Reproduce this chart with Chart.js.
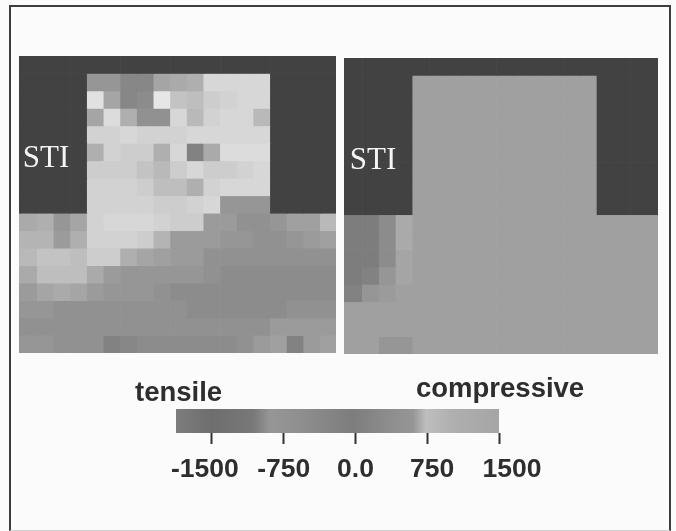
<!DOCTYPE html>
<html>
<head>
<meta charset="utf-8">
<script src="https://cdn.jsdelivr.net/npm/chart.js@4/dist/chart.umd.min.js"></script>
<style>
html,body{margin:0;padding:0;background:#fbfbfb;width:676px;height:531px;overflow:hidden}
#frame{position:absolute;left:9px;top:5px;width:658px;height:523px;border:2px solid #3d3d3d;border-bottom:1px solid #d0d0d0}
.box{position:absolute;overflow:hidden}
canvas{display:block}
.crop{margin-left:-15px}
</style>
</head>
<body>
<div id="frame"></div>
<div class="box" style="left:19px;top:56px;width:317px;height:297px"><canvas id="left" class="crop"></canvas></div>
<div class="box" style="left:344px;top:58px;width:314px;height:296px"><canvas id="right" class="crop"></canvas></div>
<div class="box" style="left:120px;top:370px;width:480px;height:120px"><canvas id="bar"></canvas></div>
<script>
// Stress per cell (MPa); null = STI oxide region
const n = null;
const columns = ["edge","c0","c1","c2","c3","c4","c5","c6","c7","c8","c9","c10","c11","c12","c13","c14","c15","c16","c17","c18"];
const stressLeft = [
[n,n,n,n,n,n,n,n,n,n,n,n,n,n,n,n,n,n,n],
[n,n,n,n,-300,-300,-600,-600,0,100,200,1000,1000,1000,1000,n,n,n,n],
[n,n,n,n,1200,0,-600,-500,1300,600,500,800,900,1000,1000,n,n,n,n],
[n,n,n,n,0,1100,200,-400,-400,1000,400,900,1000,1000,400,n,n,n,n],
[n,n,n,n,900,900,1000,900,900,900,1000,1000,1000,1000,1000,n,n,n,n],
[n,n,n,n,200,900,800,800,200,1000,-700,100,1100,1100,1100,n,n,n,n],
[n,n,n,n,800,800,800,600,400,800,1000,800,800,900,1000,n,n,n,n],
[n,n,n,n,900,900,900,800,500,500,200,900,1000,1000,1000,n,n,n,n],
[n,n,n,n,900,900,900,900,800,800,900,1000,-300,-300,-300,n,n,n,n],
[100,200,-300,0,900,1000,1000,1000,900,800,800,-200,-200,-400,-400,-300,-100,-100,400],
[300,300,-200,200,900,900,900,800,300,-200,-200,-200,-300,-300,-400,-400,-300,-200,-100],
[400,600,600,500,800,800,200,0,-100,-200,-200,-400,-400,-400,-400,-400,-400,-400,-400],
[100,500,500,500,100,-200,-300,-300,-300,-300,-300,-400,-500,-500,-500,-500,-500,-500,-500],
[-200,0,100,0,-200,-300,-300,-300,-400,-500,-500,-500,-500,-500,-500,-500,-500,-500,-500],
[-300,-300,-400,-400,-400,-400,-400,-400,-400,-400,-500,-500,-500,-500,-500,-500,-400,-400,-400],
[-400,-400,-400,-400,-400,-400,-400,-400,-400,-400,-400,-400,-400,-400,-400,-200,-200,-200,-200],
[-300,-300,-400,-400,-400,-700,-600,-500,-500,-500,-500,-500,-500,-400,-200,-100,-700,-200,-100]
];
const stressRight = [
[n,n,n,n,n,n,n,n,n,n,n,n,n,n,n,n,n,n,n],
[n,n,n,n,-100,-100,-100,-100,-100,-100,-100,-100,-100,-100,-100,n,n,n,n],
[n,n,n,n,-100,-100,-100,-100,-100,-100,-100,-100,-100,-100,-100,n,n,n,n],
[n,n,n,n,-100,-100,-100,-100,-100,-100,-100,-100,-100,-100,-100,n,n,n,n],
[n,n,n,n,-100,-100,-100,-100,-100,-100,-100,-100,-100,-100,-100,n,n,n,n],
[n,n,n,n,-100,-100,-100,-100,-100,-100,-100,-100,-100,-100,-100,n,n,n,n],
[n,n,n,n,-100,-100,-100,-100,-100,-100,-100,-100,-100,-100,-100,n,n,n,n],
[n,n,n,n,-100,-100,-100,-100,-100,-100,-100,-100,-100,-100,-100,n,n,n,n],
[n,n,n,n,-100,-100,-100,-100,-100,-100,-100,-100,-100,-100,-100,n,n,n,n],
[-800,-800,-500,100,-100,-100,-100,-100,-100,-100,-100,-100,-100,-100,-100,-100,-100,-100,-100],
[-800,-800,-500,100,-100,-100,-100,-100,-100,-100,-100,-100,-100,-100,-100,-100,-100,-100,-100],
[-800,-800,-500,0,-100,-100,-100,-100,-100,-100,-100,-100,-100,-100,-100,-100,-100,-100,-100],
[-800,-700,-300,0,-100,-100,-100,-100,-100,-100,-100,-100,-100,-100,-100,-100,-100,-100,-100],
[-700,-300,-200,-100,-100,-100,-100,-100,-100,-100,-100,-100,-100,-100,-100,-100,-100,-100,-100],
[-100,-100,-100,-100,-100,-100,-100,-100,-100,-100,-100,-100,-100,-100,-100,-100,-100,-100,-100],
[-100,-100,-100,-100,-100,-100,-100,-100,-100,-100,-100,-100,-100,-100,-100,-100,-100,-100,-100],
[-100,-100,-300,-300,-100,-100,-100,-100,-100,-100,-100,-100,-100,-100,-100,-100,-100,-100,-100]
];
const colorbarValues = [-1875,-1500,-1070,-895,-655,-30,320,600,740,1015,1500];
const colorbarGrays  = [125,110,120,150,145,125,140,150,190,175,165];
const tickValues = [-1500,-750,0,750,1500];
const tickLabels = ["-1500","-750","0.0","750","1500"];
const tickLabelShift = [-7,0,0,5,13];
const stiLabel = "STI";
const tensileLabel = "tensile";
const compressiveLabel = "compressive";

const STI_GRAY = 66;
const gray = g => `rgb(${g},${g},${g})`;
const stressColor = v => v === null ? gray(STI_GRAY) : gray(Math.round(165 + v / 20));

Chart.defaults.animation = false;
Chart.defaults.responsive = false;

function heatmap(id, w, h, table, labelAt) {
  const cv = document.getElementById(id);
  cv.width = w; cv.height = h;
  const datasets = table.map((row, r) => {
    const cells = [row[0], ...row]; // leading column: the mesh continues past the cropped edge
    return {
      data: cells.map(() => [r, r + 1]),
      backgroundColor: cells.map(stressColor),
      borderWidth: 0,
      barPercentage: 1,
      categoryPercentage: 1,
      grouped: false
    };
  });
  return new Chart(cv, {
    type: "bar",
    data: { labels: columns, datasets },
    options: {
      maintainAspectRatio: false,
      layout: { padding: 0 },
      scales: {
        x: { display: false, grid: { display: false } },
        y: { display: false, reverse: true, min: 0, max: table.length }
      },
      plugins: { legend: { display: false }, tooltip: { enabled: false } }
    },
    plugins: [{
      id: "stiText",
      afterDatasetsDraw(c) {
        const ctx = c.ctx, xs = c.scales.x, ys = c.scales.y;
        ctx.save();
        ctx.fillStyle = "#f4f4f4";
        ctx.font = "31px 'Liberation Serif'";
        ctx.textAlign = "center";
        ctx.textBaseline = "alphabetic";
        ctx.fillText(stiLabel, xs.getPixelForValue(labelAt[0]), ys.getPixelForValue(labelAt[1]));
        ctx.restore();
      }
    }]
  });
}
heatmap("left", 333, 297, stressLeft, [2.02, 6.35]);
heatmap("right", 335, 296, stressRight, [2.13, 6.37]);

const barCanvas = document.getElementById("bar");
barCanvas.width = 480; barCanvas.height = 120;
new Chart(barCanvas, {
  type: "bar",
  data: {
    labels: ["scale"],
    datasets: [{
      data: [[colorbarValues[0], colorbarValues[colorbarValues.length - 1]]],
      barPercentage: 1, categoryPercentage: 1, borderWidth: 0,
      backgroundColor(c) {
        const a = c.chart.chartArea;
        if (!a) return gray(150);
        const g = c.chart.ctx.createLinearGradient(a.left, 0, a.right, 0);
        const lo = colorbarValues[0], hi = colorbarValues[colorbarValues.length - 1];
        colorbarValues.forEach((v, i) => g.addColorStop((v - lo) / (hi - lo), gray(colorbarGrays[i])));
        return g;
      }
    }]
  },
  options: {
    indexAxis: "y",
    maintainAspectRatio: false,
    layout: { padding: { left: 56, right: 101, top: 39, bottom: 33 } },
    scales: {
      y: { display: false },
      x: {
        min: -1875, max: 1500,
        border: { display: false },
        grid: { drawOnChartArea: false, drawTicks: true, tickLength: 11, tickWidth: 2, tickColor: "#333" },
        afterBuildTicks(s) { s.ticks = tickValues.map(value => ({ value })); },
        ticks: {
          autoSkip: false, maxRotation: 0, minRotation: 0, padding: 40,
          color: "rgba(0,0,0,0)", font: { size: 26, weight: "bold", family: "'Liberation Sans'" },
          callback() { return ""; }
        }
      }
    },
    plugins: { legend: { display: false }, tooltip: { enabled: false } }
  },
  plugins: [{
    id: "legendText",
    afterDraw(c) {
      const ctx = c.ctx, xs = c.scales.x;
      ctx.save();
      ctx.fillStyle = "#2e2e2e";
      ctx.textBaseline = "alphabetic";
      ctx.font = "bold 26.5px 'Liberation Sans'";
      ctx.textAlign = "center";
      tickValues.forEach((v, i) => ctx.fillText(tickLabels[i], xs.getPixelForValue(v) + tickLabelShift[i], 107));
      ctx.textAlign = "left";
      ctx.font = "bold 27.5px 'Liberation Sans'";
      ctx.fillText(tensileLabel, 15, 31);
      ctx.fillText(compressiveLabel, 296, 27);
      ctx.restore();
    }
  }]
});
</script>
</body>
</html>
